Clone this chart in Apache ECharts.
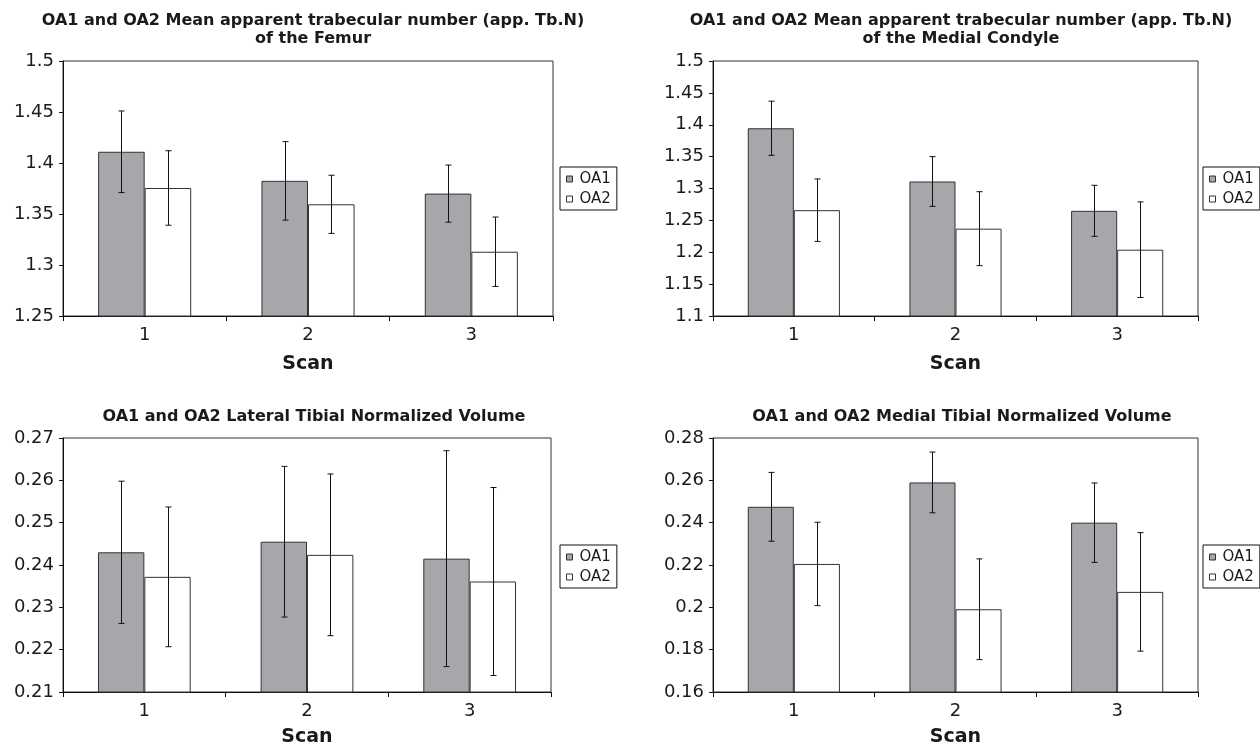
<!DOCTYPE html>
<html>
<head>
<meta charset="utf-8">
<script src="https://cdn.jsdelivr.net/npm/echarts@6/dist/echarts.min.js"></script>
<style>html,body{margin:0;padding:0;background:#fff}#c{width:1260px;height:748px}</style>
</head>
<body>
<div id="c"></div>
<script>
const categories = ['1', '2', '3'];
const seriesNames = ['OA1', 'OA2'];

// Femur app. Tb.N
const femurOA1 = [1.411, 1.3825, 1.370];
const femurOA1Err = [0.040, 0.0385, 0.028];
const femurOA2 = [1.3755, 1.3595, 1.313];
const femurOA2Err = [0.0365, 0.0285, 0.034];

// Medial condyle app. Tb.N
const condyleOA1 = [1.3945, 1.311, 1.265];
const condyleOA1Err = [0.0425, 0.039, 0.040];
const condyleOA2 = [1.266, 1.237, 1.204];
const condyleOA2Err = [0.049, 0.058, 0.075];

// Lateral tibial normalized volume
const latTibOA1 = [0.2430, 0.2455, 0.2415];
const latTibOA1Err = [0.0168, 0.0178, 0.0255];
const latTibOA2 = [0.2372, 0.2424, 0.2361];
const latTibOA2Err = [0.0165, 0.0191, 0.0222];

// Medial tibial normalized volume
const medTibOA1 = [0.2475, 0.259, 0.240];
const medTibOA1Err = [0.01625, 0.01435, 0.01875];
const medTibOA2 = [0.2205, 0.1991, 0.2073];
const medTibOA2Err = [0.0197, 0.0238, 0.028];

const titles = [
  'OA1 and OA2 Mean apparent trabecular number (app. Tb.N)\nof the Femur',
  'OA1 and OA2 Mean apparent trabecular number (app. Tb.N)\nof the Medial Condyle',
  'OA1 and OA2 Lateral Tibial Normalized Volume',
  'OA1 and OA2 Medial Tibial Normalized Volume'
];
const yMins = [1.25, 1.1, 0.21, 0.16];
const yMaxs = [1.5, 1.5, 0.27, 0.28];
const yIntervals = [0.05, 0.05, 0.01, 0.02];
const xAxisName = 'Scan';

const panels = [
  [femurOA1, femurOA1Err, femurOA2, femurOA2Err],
  [condyleOA1, condyleOA1Err, condyleOA2, condyleOA2Err],
  [latTibOA1, latTibOA1Err, latTibOA2, latTibOA2Err],
  [medTibOA1, medTibOA1Err, medTibOA2, medTibOA2Err]
];

const FONT = 'DejaVu Sans';
const GRAY = '#a6a7aa';
const EDGE = '#333';
const TXT = '#1a1a1a';
const GAP = 0.43;

const grids = [
  {left: 63, right: 707, top: 61, bottom: 432},
  {left: 713, right: 62, top: 61, bottom: 432},
  {left: 63, right: 709, top: 438, bottom: 53},
  {left: 713, right: 62, top: 438, bottom: 53}
];
const titlePos = [
  {cx: 308, top: 7},
  {cx: 956, top: 7},
  {cx: 309, top: 403},
  {cx: 957, top: 403}
];
const legendPos = [
  {left: 560, top: 167},
  {left: 1203, top: 167},
  {left: 560, top: 545},
  {left: 1203, top: 545}
];
const nameGaps = [39, 39, 36, 36];

function errSeries(idx, vals, errs, side) {
  return {
    type: 'custom',
    name: 'err' + idx + side,
    xAxisIndex: idx,
    yAxisIndex: idx,
    z: 10,
    silent: true,
    encode: {x: 0, y: [1, 2]},
    data: vals.map((v, i) => [i, v - errs[i], v + errs[i]]),
    renderItem: function (params, api) {
      const band = api.size([1, 0])[0];
      const barW = band * (1 - GAP) / 2;
      const lo = api.coord([api.value(0), api.value(1)]);
      const hi = api.coord([api.value(0), api.value(2)]);
      const x = Math.round(lo[0] + side * barW / 2) + 0.5;
      const cap = 3;
      const st = {stroke: '#111', lineWidth: 1};
      return {
        type: 'group',
        children: [
          {type: 'line', shape: {x1: x, y1: hi[1], x2: x, y2: lo[1]}, style: st},
          {type: 'line', shape: {x1: x - cap, y1: hi[1], x2: x + cap, y2: hi[1]}, style: st},
          {type: 'line', shape: {x1: x - cap, y1: lo[1], x2: x + cap, y2: lo[1]}, style: st}
        ]
      };
    }
  };
}

const option = {
  backgroundColor: '#fff',
  animation: false,
  textStyle: {fontFamily: FONT},
  title: titles.map((t, i) => ({
    text: t,
    left: titlePos[i].cx,
    top: titlePos[i].top,
    textAlign: 'center',
    textStyle: {fontFamily: FONT, fontSize: 16, fontWeight: 'bold', color: TXT, lineHeight: 18}
  })),
  legend: legendPos.map((p) => ({
    left: p.left,
    top: p.top,
    orient: 'vertical',
    data: [
      {name: 'OA1', itemStyle: {color: GRAY, borderColor: EDGE, borderWidth: 1}},
      {name: 'OA2', itemStyle: {color: '#fff', borderColor: EDGE, borderWidth: 1}}
    ],
    icon: 'rect',
    itemWidth: 6,
    itemHeight: 6,
    itemGap: 4,
    padding: [4, 6, 3, 6],
    borderColor: '#111',
    borderWidth: 1,
    backgroundColor: '#fff',
    selectedMode: false,
    textStyle: {fontFamily: FONT, fontSize: 15, lineHeight: 16, color: TXT, padding: [0, 0, 0, 2]}
  })),
  grid: grids.map(g => Object.assign({show: true, borderColor: EDGE, borderWidth: 1, backgroundColor: '#fff'}, g)),
  xAxis: grids.map((g, i) => ({
    type: 'category',
    gridIndex: i,
    data: categories,
    axisLine: {lineStyle: {color: '#111', width: 1}},
    axisTick: {show: true, length: 5, lineStyle: {color: '#111'}},
    axisLabel: {fontFamily: FONT, fontSize: 18, color: TXT, margin: 10},
    name: xAxisName,
    nameLocation: 'middle',
    nameGap: nameGaps[i],
    nameTextStyle: {fontFamily: FONT, fontSize: 19, fontWeight: 'bold', color: TXT}
  })),
  yAxis: grids.map((g, i) => ({
    type: 'value',
    gridIndex: i,
    min: yMins[i],
    max: yMaxs[i],
    interval: yIntervals[i],
    axisLine: {show: true, lineStyle: {color: '#111', width: 1}},
    axisTick: {show: true, length: 4, lineStyle: {color: '#111'}},
    splitLine: {show: false},
    axisLabel: {
      fontFamily: FONT, fontSize: 18, color: TXT, margin: 9,
      formatter: v => String(parseFloat(v.toFixed(3)))
    }
  })),
  series: []
};

panels.forEach((p, i) => {
  option.series.push({
    type: 'bar', name: 'OA1', xAxisIndex: i, yAxisIndex: i, data: p[0],
    barGap: '0%', barCategoryGap: (GAP * 100) + '%',
    itemStyle: {color: GRAY, borderColor: EDGE, borderWidth: 1}
  });
  option.series.push({
    type: 'bar', name: 'OA2', xAxisIndex: i, yAxisIndex: i, data: p[2],
    barGap: '0%', barCategoryGap: (GAP * 100) + '%',
    itemStyle: {color: '#fff', borderColor: EDGE, borderWidth: 1}
  });
  option.series.push(errSeries(i, p[0], p[1], -1));
  option.series.push(errSeries(i, p[2], p[3], 1));
});

const chart = echarts.init(document.getElementById('c'), null, {renderer: 'canvas'});
chart.setOption(option);
</script>
</body>
</html>
